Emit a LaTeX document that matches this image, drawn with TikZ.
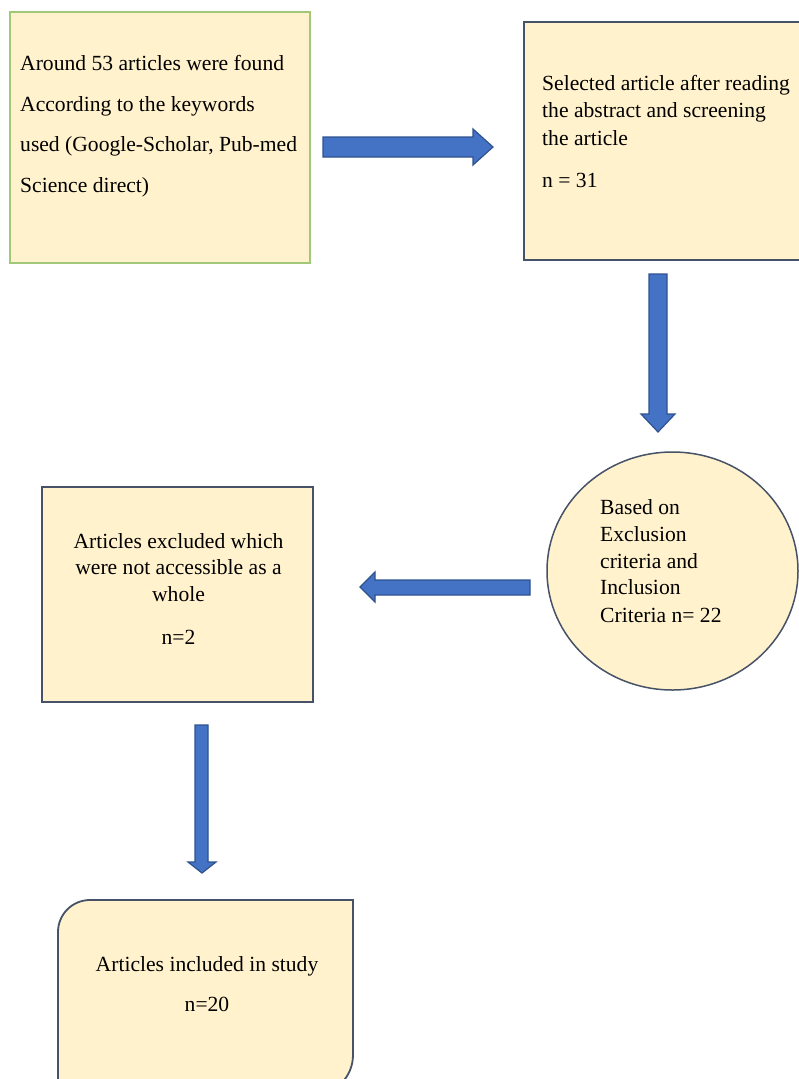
\documentclass[tikz,border=0pt]{standalone}
\usepackage{fontspec}
\setmainfont{Liberation Serif}
\usetikzlibrary{shapes.geometric}
\definecolor{boxfill}{HTML}{FFF2CC}
\definecolor{greenline}{RGB}{160,200,120}
\definecolor{darkline}{RGB}{70,82,104}
\definecolor{arrowblue}{HTML}{4472C4}
\definecolor{arrowedge}{HTML}{2F528F}
\tikzset{
  box/.style={draw=darkline, fill=boxfill, line width=1.8pt, inner sep=0pt},
  greenbox/.style={box, draw=greenline},
  oval/.style={box, ellipse, line width=1.5pt},
  blockarrow/.style={fill=arrowblue, draw=arrowedge, line width=1.2pt, line join=miter},
  txt/.style={inner sep=0pt, font=\fontsize{21.6}{26}\selectfont, text=black},
  txtl/.style={txt, anchor=base west},
  txtc/.style={txt, anchor=base}
}
\begin{document}
\begin{tikzpicture}[x=1pt, y=-1pt]
\clip (0,0) rectangle (799,1079);
\fill[white] (0,0) rectangle (799,1079);

% boxes
\node[greenbox, minimum width=300pt, minimum height=251pt] (found) at (160,137.5) {};
\node[box, minimum width=290pt, minimum height=238pt] (selected) at (669,141) {};
\node[oval, minimum width=251pt, minimum height=238pt] (criteria) at (672.5,571) {};
\node[box, minimum width=271pt, minimum height=215pt] (excluded) at (177.5,594.5) {};
\draw[box] (58,1110) -- (58,932) .. controls (58,914.3) and (72.3,900) .. (90,900)
  -- (353,900) -- (353,1055) .. controls (353,1077.1) and (335.1,1095) .. (313,1095)
  -- (58,1095);

% texts
\node[txtl] (f1) at (20,70) {Around 53 articles were found};
\node[txtl] (f2) at (20,111) {According to the keywords};
\node[txtl] (f3) at (20,151) {used (Google-Scholar, Pub-med};
\node[txtl] (f4) at (20,192) {Science direct)};

\node[txtl] (s1) at (542,90) {Selected article after reading};
\node[txtl] (s2) at (542,117) {the abstract and screening};
\node[txtl] (s3) at (542,145) {the article};
\node[txtl] (s4) at (542,187) {n = 31};

\node[txtl] (c1) at (600,514) {Based on};
\node[txtl] (c2) at (600,541) {Exclusion};
\node[txtl] (c3) at (600,568) {criteria and};
\node[txtl] (c4) at (600,594) {Inclusion};
\node[txtl] (c5) at (600,622) {Criteria n= 22};

\node[txtc] (e1) at (178.5,548) {Articles excluded which};
\node[txtc] (e2) at (178.5,574) {were not accessible as a};
\node[txtc] (e3) at (178.5,601) {whole};
\node[txtc] (e4) at (178.5,644) {n=2};

\node[txtc] (i1) at (207,971) {Articles included in study};
\node[txtc] (i2) at (207,1011) {n=20};

% block arrows
\filldraw[blockarrow] (323,137) -- (473,137) -- (473,129) -- (493,147) -- (473,165) -- (473,157) -- (323,157) -- cycle;
\filldraw[blockarrow] (649,274) -- (667,274) -- (667,414) -- (675,414) -- (658,432) -- (641,414) -- (649,414) -- cycle;
\filldraw[blockarrow] (530,580) -- (375,580) -- (375,572) -- (360,587) -- (375,602) -- (375,595) -- (530,595) -- cycle;
\filldraw[blockarrow] (195,725) -- (208,725) -- (208,862) -- (216,862) -- (202,873) -- (188,862) -- (195,862) -- cycle;
\end{tikzpicture}
\end{document}
